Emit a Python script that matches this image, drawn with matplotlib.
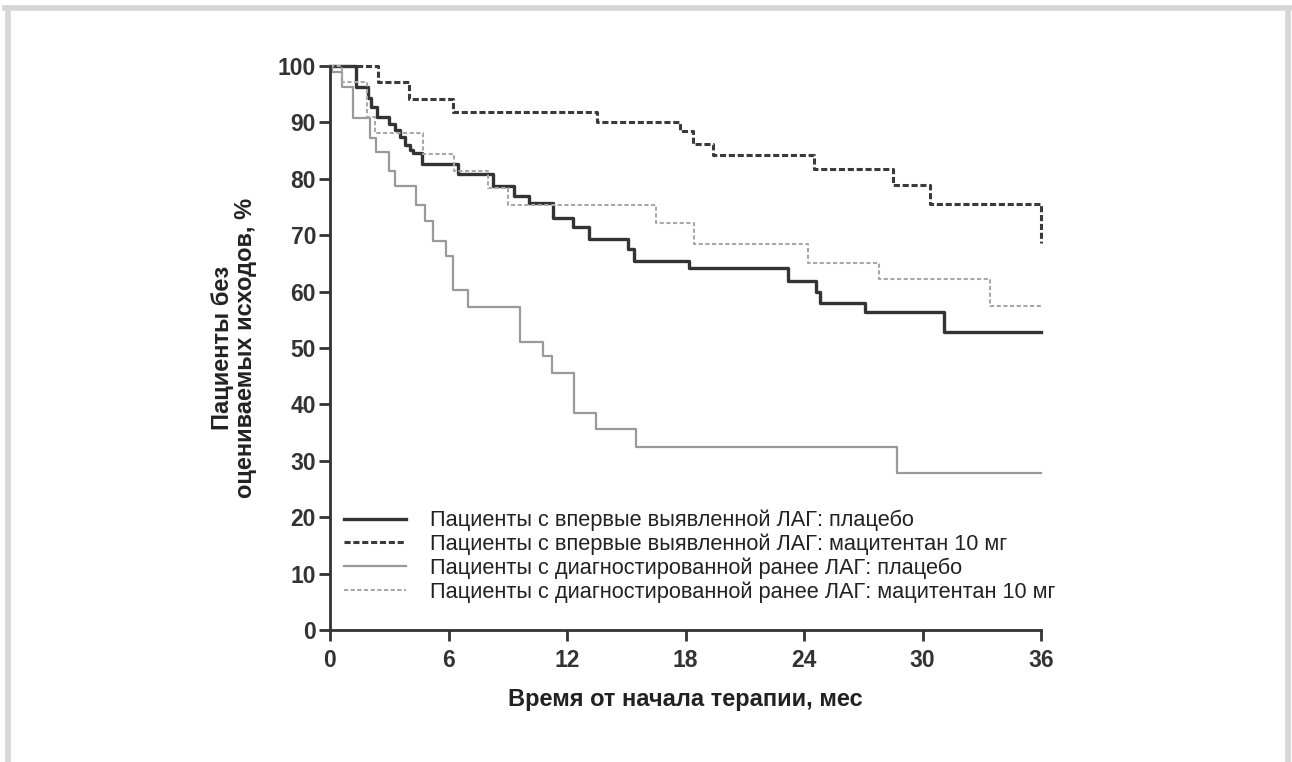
import matplotlib.pyplot as plt
from matplotlib.lines import Line2D

# Pacienty s vpervye vyjavlennoj LAG: placebo
a_t = [0, 1.3, 1.9, 2.1, 2.4, 3.0, 3.3, 3.55, 3.8, 4.05, 4.2, 4.65, 6.5, 8.25, 9.3, 10.1, 11.3,
       12.3, 13.1, 15.1, 15.4, 18.2, 23.2, 24.6, 24.8, 27.1, 31.1, 36.0]
a_v = [100, 96.3, 94.4, 92.8, 91.0, 89.8, 88.6, 87.5, 86.0, 85.1, 84.5, 82.7, 80.8, 78.7, 76.9, 75.7, 73.1,
       71.5, 69.4, 67.6, 65.5, 64.1, 61.9, 60.0, 57.9, 56.3, 52.9, 52.9]

# vpervye vyjavlennoj: macitentan 10 mg
b_t = [0, 2.45, 4.0, 6.25, 13.5, 17.7, 18.4, 19.4, 24.5, 28.5, 30.4, 36.0]
b_v = [100, 97.1, 94.2, 91.9, 90.1, 88.4, 86.2, 84.2, 81.7, 78.9, 75.5, 68.7]

# diagnostirovannoj ranee: placebo
c_t = [0, 0.1, 0.6, 1.18, 2.0, 2.35, 3.0, 3.27, 4.35, 4.8, 5.23, 5.87, 6.24, 7.0, 9.63, 10.8, 11.25,
       12.37, 13.47, 15.5, 28.7, 36.0]
c_v = [100, 99.0, 96.3, 90.7, 87.2, 84.8, 81.3, 78.7, 75.4, 72.5, 69.0, 66.3, 60.3, 57.3, 51.1, 48.6, 45.6,
       38.4, 35.6, 32.4, 27.9, 27.9]

# diagnostirovannoj ranee: macitentan 10 mg
d_t = [0, 0.6, 1.86, 2.28, 4.73, 6.26, 8.0, 9.0, 16.5, 18.45, 24.2, 27.8, 33.4, 36.0]
d_v = [100, 97.1, 91.0, 88.1, 84.4, 81.3, 78.4, 75.4, 72.1, 68.4, 65.1, 62.2, 57.4, 57.4]

labels = ['Пациенты с впервые выявленной ЛАГ: плацебо',
          'Пациенты с впервые выявленной ЛАГ: мацитентан 10 мг',
          'Пациенты с диагностированной ранее ЛАГ: плацебо',
          'Пациенты с диагностированной ранее ЛАГ: мацитентан 10 мг']
x_ticks = [0, 6, 12, 18, 24, 30, 36]
y_ticks = [0, 10, 20, 30, 40, 50, 60, 70, 80, 90, 100]

fam = ['Liberation Sans', 'DejaVu Sans']

fig = plt.figure(figsize=(12.92, 7.62), dpi=100)
ax = fig.add_axes([330 / 1292, 1 - 630 / 762, 711 / 1292, 564 / 762])

ax.step(a_t, a_v, where='post', color='#333333', lw=2.4, clip_on=False, label=labels[0])
ax.step(b_t, b_v, where='post', color='#3a3a3a', lw=2.2, ls=(0, (2.0, 0.9)), clip_on=False, label=labels[1])
ax.step(c_t, c_v, where='post', color='#9a9a9a', lw=1.6, clip_on=False, label=labels[2])
ax.step(d_t, d_v, where='post', color='#a8a8a8', lw=1.5, ls=(0, (2.0, 1.2)), clip_on=False, label=labels[3])

ax.set_xlim(0, 36)
ax.set_ylim(0, 100)
ax.set_xticks(x_ticks)
ax.set_yticks(y_ticks)
for s in ['top', 'right']:
    ax.spines[s].set_visible(False)
for s in ['left', 'bottom']:
    ax.spines[s].set_linewidth(2)
    ax.spines[s].set_color('#333333')
ax.tick_params(direction='out', length=8, width=2, color='#333333')
ax.tick_params(axis='x', pad=6)
ax.tick_params(axis='y', pad=2)
for lab in ax.get_xticklabels() + ax.get_yticklabels():
    lab.set_family(fam)
    lab.set_fontweight('bold')
    lab.set_fontsize(16.5)
    lab.set_color('#333333')

ax.set_xlabel('Время от начала терапии, мес', fontsize=17, fontweight='bold',
              family=fam, color='#222222')
ax.xaxis.set_label_coords(0.5, -0.102)
ax.set_ylabel('Пациенты без\nоцениваемых исходов, %', fontsize=17, fontweight='bold',
              family=fam, color='#222222', linespacing=1.0)
ax.yaxis.set_label_coords(-0.103, 0.5)

leg = ax.legend(loc='lower left', bbox_to_anchor=(0.0197, 0.048), frameon=False, borderaxespad=0,
                borderpad=0, handlelength=2.85, handletextpad=1.1, labelspacing=0.11,
                prop={'family': fam, 'size': 15.7})
for t in leg.get_texts():
    t.set_color('#222222')

# svetlo-seraja ramka vokrug risunka (bez nizhnej storony)
frame_kw = dict(color='#d6d6d6', lw=4, transform=fig.transFigure)
fig.add_artist(Line2D([7.5 / 1292, 7.5 / 1292], [0, 1 - 7.5 / 762], **frame_kw))
fig.add_artist(Line2D([5 / 1292, 1290 / 1292], [1 - 7.5 / 762, 1 - 7.5 / 762], **frame_kw))
fig.add_artist(Line2D([1287.5 / 1292, 1287.5 / 1292], [0, 1 - 7.5 / 762], **frame_kw))

fig.savefig('out.png', dpi=100)
